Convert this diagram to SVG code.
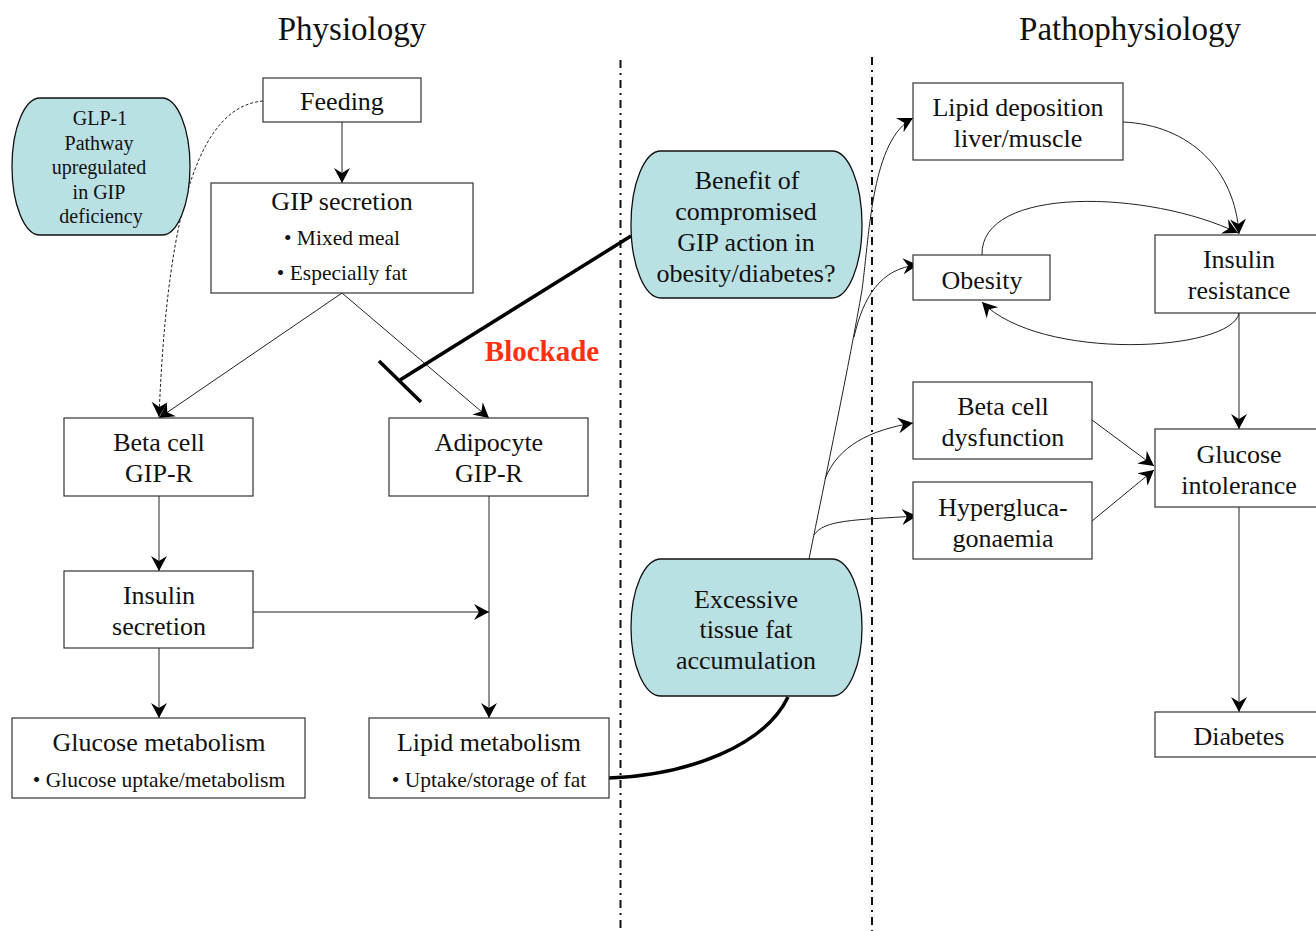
<svg xmlns="http://www.w3.org/2000/svg" width="1316" height="931" viewBox="0 0 1316 931">
<style>
text{font-family:"Liberation Serif","Times New Roman",serif;fill:#111;text-anchor:middle}
.t{font-size:26px}
.b{font-size:21.5px}
.s{font-size:20px}
.h{font-size:33px}
.red{font-size:29px;font-weight:bold;fill:#ff3010}
.box{fill:#fff;stroke:#333;stroke-width:1.2}
.pill{fill:#b9e0e3;stroke:#111;stroke-width:1.3}
.cm{fill:none;stroke:#222;stroke-width:1;marker-end:url(#arr)}
.dd{fill:none;stroke:#111;stroke-width:2;stroke-dasharray:8,5,2,5}
.thick{fill:none;stroke:#000;stroke-width:3.5}
</style>
<defs>
<marker id="arr" viewBox="-16 -9 17 18" refX="0" refY="0" markerWidth="17" markerHeight="18" markerUnits="userSpaceOnUse" orient="auto">
<path d="M0,0 L-15,-8 L-10,0 L-15,8 Z" fill="#000"/>
</marker>
</defs>
<rect width="1316" height="931" fill="#fff"/>

<g id="titles">
<text class="h" x="352" y="40">Physiology</text>
<text class="h" x="1130" y="40">Pathophysiology</text>
</g>

<g id="separators">
<line class="dd" x1="620.5" y1="60" x2="620.5" y2="931"/>
<line class="dd" x1="872" y1="57" x2="872" y2="931"/>
</g>

<g id="connectors">
<line class="cm" x1="342" y1="122" x2="342" y2="183"/>
<line class="cm" x1="342" y1="293" x2="159" y2="418"/>
<line class="cm" x1="342" y1="293" x2="489" y2="418"/>
<path class="cm" d="M263,101 C205,106 168,190 159,417" stroke-dasharray="3,2"/>
<line class="cm" x1="159" y1="496" x2="159" y2="571"/>
<line class="cm" x1="159" y1="648" x2="159" y2="718"/>
<line class="cm" x1="489" y1="496" x2="489" y2="718"/>
<line class="cm" x1="253" y1="612" x2="489" y2="612"/>
<path class="thick" d="M631,236 L400,380"/>
<path class="thick" d="M379,361 L421,402"/>
<path class="thick" d="M609,778 C690,775 765,745 788,697"/>
<path class="cm" d="M809,559 C825,480 850,360 862,290 C870,230 872,140 913,118"/>
<path class="cm" d="M854,337 C863,298 880,268 918,265"/>
<path class="cm" d="M825,479 C838,446 870,430 913,423"/>
<path class="cm" d="M814,535 C824,520 852,520 917,516"/>
<path class="cm" d="M1123,122 C1190,125 1235,170 1239,234"/>
<path class="cm" d="M982,255 C980,185 1150,190 1238,233"/>
<path class="cm" d="M1239,313 C1232,352 1040,362 982,302"/>
<line class="cm" x1="1239" y1="313" x2="1239" y2="429"/>
<line class="cm" x1="1092" y1="420" x2="1154" y2="466"/>
<line class="cm" x1="1092" y1="521" x2="1154" y2="470"/>
<line class="cm" x1="1239" y1="507" x2="1239" y2="712"/>
</g>

<g id="glp1">
<rect class="pill" x="12" y="98" width="178" height="137" rx="28" ry="68.5"/>
<text class="s" x="100" y="125">GLP-1</text>
<text class="s" x="99" y="150">Pathway</text>
<text class="s" x="99" y="174">upregulated</text>
<text class="s" x="99" y="199">in GIP</text>
<text class="s" x="101" y="223">deficiency</text>
</g>

<g id="feeding">
<rect class="box" x="263" y="78" width="158" height="44"/>
<text class="t" x="342" y="110">Feeding</text>
</g>

<g id="gip-secretion">
<rect class="box" x="211" y="183" width="262" height="110"/>
<text class="t" x="342" y="210">GIP secretion</text>
<text class="b" x="342" y="245">• Mixed meal</text>
<text class="b" x="342" y="280">• Especially fat</text>
</g>

<g id="beta-cell">
<rect class="box" x="64" y="418" width="189" height="78"/>
<text class="t" x="159" y="451">Beta cell</text>
<text class="t" x="159" y="482">GIP-R</text>
</g>

<g id="adipocyte">
<rect class="box" x="389" y="418" width="199" height="78"/>
<text class="t" x="489" y="451">Adipocyte</text>
<text class="t" x="489" y="482">GIP-R</text>
</g>

<g id="insulin-secretion">
<rect class="box" x="64" y="571" width="189" height="77"/>
<text class="t" x="159" y="604">Insulin</text>
<text class="t" x="159" y="635">secretion</text>
</g>

<g id="glucose-metabolism">
<rect class="box" x="12" y="718" width="293" height="80"/>
<text class="t" x="159" y="751">Glucose metabolism</text>
<text class="b" x="159" y="787">• Glucose uptake/metabolism</text>
</g>

<g id="lipid-metabolism">
<rect class="box" x="369" y="718" width="240" height="80"/>
<text class="t" x="489" y="751">Lipid metabolism</text>
<text class="b" x="489" y="787">• Uptake/storage of fat</text>
</g>

<g id="blockade">
<text class="red" x="542" y="361">Blockade</text>
</g>

<g id="benefit">
<rect class="pill" x="631" y="151" width="231" height="147" rx="30" ry="73.5"/>
<text class="t" x="747" y="189">Benefit of</text>
<text class="t" x="746" y="220">compromised</text>
<text class="t" x="746" y="251">GIP action in</text>
<text class="t" x="746" y="282">obesity/diabetes?</text>
</g>

<g id="excessive-fat">
<rect class="pill" x="631" y="559" width="231" height="137" rx="30" ry="68.5"/>
<text class="t" x="746" y="608">Excessive</text>
<text class="t" x="746" y="638">tissue fat</text>
<text class="t" x="746" y="669">accumulation</text>
</g>

<g id="lipid-deposition">
<rect class="box" x="913" y="83" width="210" height="77"/>
<text class="t" x="1018" y="116">Lipid deposition</text>
<text class="t" x="1018" y="147">liver/muscle</text>
</g>

<g id="obesity">
<rect class="box" x="913" y="255" width="137" height="45"/>
<text class="t" x="982" y="289">Obesity</text>
</g>

<g id="insulin-resistance">
<rect class="box" x="1155" y="235" width="168" height="78"/>
<text class="t" x="1239" y="268">Insulin</text>
<text class="t" x="1239" y="299">resistance</text>
</g>

<g id="beta-cell-dysfunction">
<rect class="box" x="913" y="382" width="179" height="77"/>
<text class="t" x="1003" y="415">Beta cell</text>
<text class="t" x="1003" y="446">dysfunction</text>
</g>

<g id="hyperglucagonaemia">
<rect class="box" x="913" y="482" width="179" height="77"/>
<text class="t" x="1003" y="516">Hypergluca-</text>
<text class="t" x="1003" y="547">gonaemia</text>
</g>

<g id="glucose-intolerance">
<rect class="box" x="1155" y="429" width="168" height="78"/>
<text class="t" x="1239" y="463">Glucose</text>
<text class="t" x="1239" y="494">intolerance</text>
</g>

<g id="diabetes">
<rect class="box" x="1155" y="712" width="168" height="45"/>
<text class="t" x="1239" y="745">Diabetes</text>
</g>
</svg>
